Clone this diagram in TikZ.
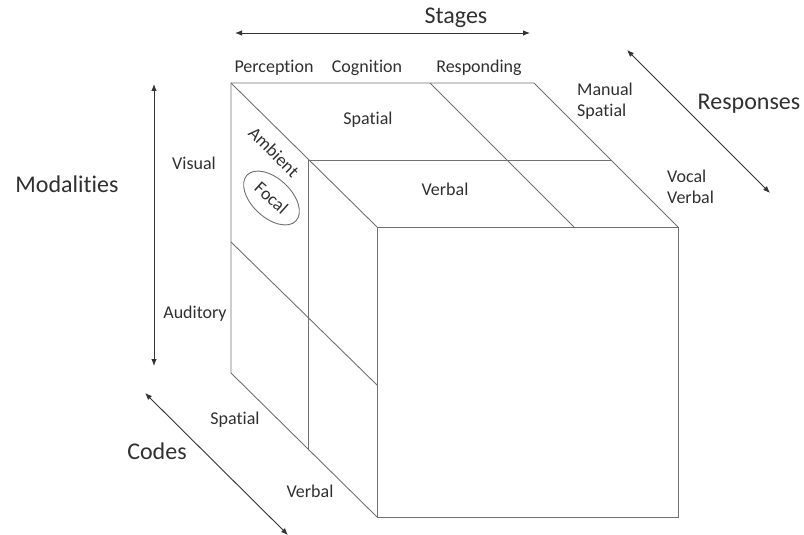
\documentclass[tikz,border=0pt]{standalone}
\usepackage{fontspec}
\setmainfont{Carlito}[Ligatures={NoCommon,NoRare}]
\usetikzlibrary{arrows.meta,shapes.geometric}
\definecolor{linec}{HTML}{707070}
\definecolor{txt}{HTML}{303030}
\begin{document}
\begin{tikzpicture}[x=1pt,y=-1pt,
  edge/.style={draw=linec,line width=0.9pt},
  axis/.style={draw=black!80,line width=0.9pt,{Latex[length=7pt,width=5.5pt]}-{Latex[length=7pt,width=5.5pt]}},
  lbl/.style={text=txt,inner sep=0pt,font=\fontsize{18}{21.5}\selectfont},
  big/.style={text=txt,inner sep=0pt,font=\fontsize{24}{29}\selectfont}]
\useasboundingbox (0,0) rectangle (804,535);
% cube corners
\coordinate (A) at (231,83);
\coordinate (B) at (430,83);
\coordinate (C) at (534,83);
\coordinate (D) at (308,160);
\coordinate (E) at (612,160);
\coordinate (F) at (377,227);
\coordinate (G) at (574,227);
\coordinate (H) at (678,227);
\coordinate (I) at (231,373);
\coordinate (J) at (308,450);
\coordinate (K) at (377,517);
\coordinate (L) at (678,517);
\coordinate (M) at (231,242);
\coordinate (N) at (377,385);
% cube edges
\draw[edge] (A) -- (C) -- (H);
\draw[edge] (A) -- (F);
\draw[edge] (B) -- (G);
\draw[edge] (D) -- (E);
\draw[edge] (A) -- (I) -- (K);
\draw[edge] (D) -- (J);
\draw[edge] (M) -- (N);
\draw[edge] (F) rectangle (L);
% focal ellipse
\node[ellipse,draw=linec,line width=0.9pt,minimum width=67pt,minimum height=39pt,rotate=-43,inner sep=0pt] (ell) at (271.5,198) {};
\node[lbl,rotate=-42] (focal) at (ell.center) {Focal};
\node[lbl,rotate=-45] (ambient) at (274,152) {Ambient};
% axis arrows
\coordinate (sa1) at (235,33);
\coordinate (sa2) at (530,33);
\coordinate (ma1) at (154,84);
\coordinate (ma2) at (154,366);
\coordinate (ra1) at (627,50);
\coordinate (ra2) at (770,193);
\coordinate (ca1) at (145,393);
\coordinate (ca2) at (288,535);
\draw[axis] (sa1) -- (sa2);
\draw[axis] (ma1) -- (ma2);
\draw[axis] (ra1) -- (ra2);
\draw[axis] (ca1) -- (ca2);
% axis titles
\node[big] (stages) at (456,18) {Stages};
\node[big] (modal) at (67,184) {Modalities};
\node[big] (resp) at (749,104) {Responses};
\node[big] (codes) at (157,451) {Codes};
% labels
\node[lbl] (perc) at (274,68) {Perception};
\node[lbl] (cogn) at (367,68) {Cognition};
\node[lbl] (resd) at (479,68) {Responding};
\node[lbl] (tsp) at (368,120) {Spatial};
\node[lbl] (tvb) at (445,189) {Verbal};
\node[lbl,align=left,anchor=west] (mansp) at (577,101) {Manual\\Spatial};
\node[lbl,align=left,anchor=west] (vocvb) at (667,187) {Vocal\\Verbal};
\node[lbl] (vis) at (194,163) {Visual};
\node[lbl] (aud) at (195,314) {Auditory};
\node[lbl] (csp) at (235,420) {Spatial};
\node[lbl] (cvb) at (310,491) {Verbal};
\end{tikzpicture}
\end{document}
